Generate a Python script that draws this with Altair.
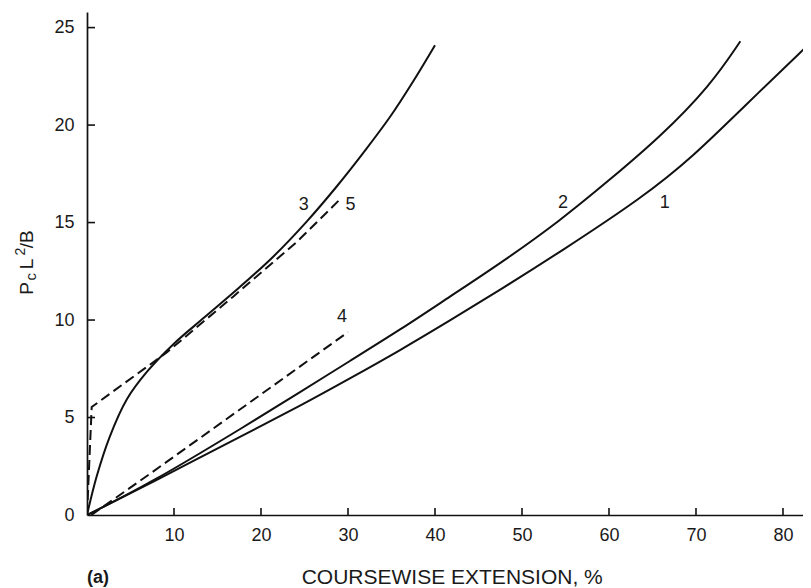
import altair as alt
import pandas as pd

# ---- data ----
c1_x = [0, 7.2, 18.7, 24.5, 30.2, 36, 41.7, 47.5, 54.4, 63.9, 69.7, 75.4, 83.1]
c1_y = [0, 1.6, 4.27, 5.6, 7.0, 8.45, 9.97, 11.55, 13.5, 16.3, 18.4, 20.9, 24.2]
c2_x = [0, 7.2, 18.7, 24.5, 30.2, 36, 41.7, 47.5, 54.4, 60.1, 65.9, 71.6, 75.1]
c2_y = [0, 1.6, 4.7, 6.3, 7.9, 9.5, 11.2, 12.9, 15.1, 17.2, 19.4, 22.0, 24.3]
c3_x = [0, 1.1, 2.6, 4.6, 6.9, 9.9, 13.4, 17.2, 21.4, 25.25, 28.7, 31.8, 34.8, 37.5, 40]
c3_y = [0, 1.96, 4.0, 5.95, 7.35, 8.75, 10.1, 11.55, 13.25, 15.05, 16.85, 18.6, 20.4, 22.25, 24.1]
c4_x = [0.5, 7.2, 30]
c4_y = [0, 2.1, 9.38]
c5_x = [0, 0.54, 9.2, 16.8, 24.1, 29.1]
c5_y = [0, 5.54, 8.35, 11.2, 14.0, 16.2]

label_text = ["1", "2", "3", "4", "5"]
label_x = [66.4, 54.7, 24.9, 29.3, 30.3]
label_y = [16.0, 16.0, 15.9, 10.15, 15.9]

x_ticks = [10, 20, 30, 40, 50, 60, 70, 80]
y_ticks = [0, 5, 10, 15, 20, 25]
y_tick_marks = [5, 10, 15, 20, 25]

x_title = "COURSEWISE EXTENSION, %"
panel_label = "(a)"

W, H = 716, 503
INK = "#111111"
FONT = "Liberation Sans"


def frame(xs, ys, name):
    return pd.DataFrame({"x": xs, "y": ys, "curve": name, "i": range(len(xs))})


solid12 = pd.concat([frame(c1_x, c1_y, "1"), frame(c2_x, c2_y, "2")])
solid3 = frame(c3_x, c3_y, "3")
dashed = pd.concat([frame(c4_x, c4_y, "4"), frame(c5_x, c5_y, "5")])
labels = pd.DataFrame({"x": label_x, "y": label_y, "t": label_text})
xt = pd.DataFrame({"x": x_ticks})
yt = pd.DataFrame({"y": y_tick_marks})

X = alt.X(
    "x:Q",
    scale=alt.Scale(domain=[0, 82.3], nice=False, zero=False),
    axis=alt.Axis(
        values=x_ticks, ticks=False, tickSize=0, grid=False,
        labelFontSize=18, labelPadding=11, labelColor="#1a1a1a",
        domainColor=INK, domainWidth=1.7,
        title=x_title, titleFontSize=21, titleFontWeight="normal", titleColor="#1a1a1a",
        titleX=364.7, titleY=68, titleBaseline="alphabetic", titleAlign="center",
    ),
)
Y = alt.Y(
    "y:Q",
    scale=alt.Scale(domain=[0, 25.8], nice=False, zero=False),
    axis=alt.Axis(
        values=y_ticks, ticks=False, tickSize=0, grid=False,
        labelFontSize=18, labelPadding=13, labelColor="#1a1a1a",
        domainColor=INK, domainWidth=1.7, title="",
    ),
)

layer12 = alt.Chart(solid12).mark_line(
    color=INK, strokeWidth=2, interpolate="basis", clip=True
).encode(x=X, y=Y, detail="curve:N", order="i:Q")

layer3 = alt.Chart(solid3).mark_line(
    color=INK, strokeWidth=2, interpolate="catmull-rom", clip=True
).encode(x=X, y=Y, order="i:Q")

dashed_layer = alt.Chart(dashed).mark_line(
    color=INK, strokeWidth=2, strokeDash=[10, 5], clip=True
).encode(x=X, y=Y, detail="curve:N", order="i:Q")

label_layer = alt.Chart(labels).mark_text(
    fontSize=18, color="#1a1a1a", font=FONT
).encode(x=X, y=Y, text="t:N")

xtick_layer = alt.Chart(xt).mark_rule(color=INK, strokeWidth=1.6).encode(
    x=X, y=alt.value(H), y2=alt.value(H - 7)
)
ytick_layer = alt.Chart(yt).mark_rule(color=INK, strokeWidth=1.6).encode(
    y=Y, x=alt.value(0), x2=alt.value(8)
)


def txt(s, x, y, size=18, angle=270, align="center", weight="normal"):
    return alt.Chart(alt.Data(values=[{}])).mark_text(
        text=s, fontSize=size, angle=angle, align=align, baseline="alphabetic",
        color="#1a1a1a", font=FONT, fontWeight=weight,
    ).encode(x=alt.value(x), y=alt.value(y))


ytitle = [
    txt("P", -54, 276.5, size=19),
    txt("c", -51.5, 264.7, size=15),
    txt("L", -54, 252, size=19),
    txt("2", -62, 239.7, size=14),
    txt("/B", -54, 227.2, size=19),
]
panel = txt(panel_label, 0, 571, size=18, angle=0, align="left", weight="bold")

chart = alt.layer(
    layer12, layer3, dashed_layer, xtick_layer, ytick_layer, label_layer, *ytitle, panel
).properties(
    width=W, height=H,
    autosize=alt.AutoSizeParams(type="none"),
    padding={"left": 79, "top": 4, "right": 0, "bottom": 73},
).configure(font=FONT, background="white").configure_view(strokeWidth=0)

chart.save("out.html", embed_options={"renderer": "svg", "actions": False})
